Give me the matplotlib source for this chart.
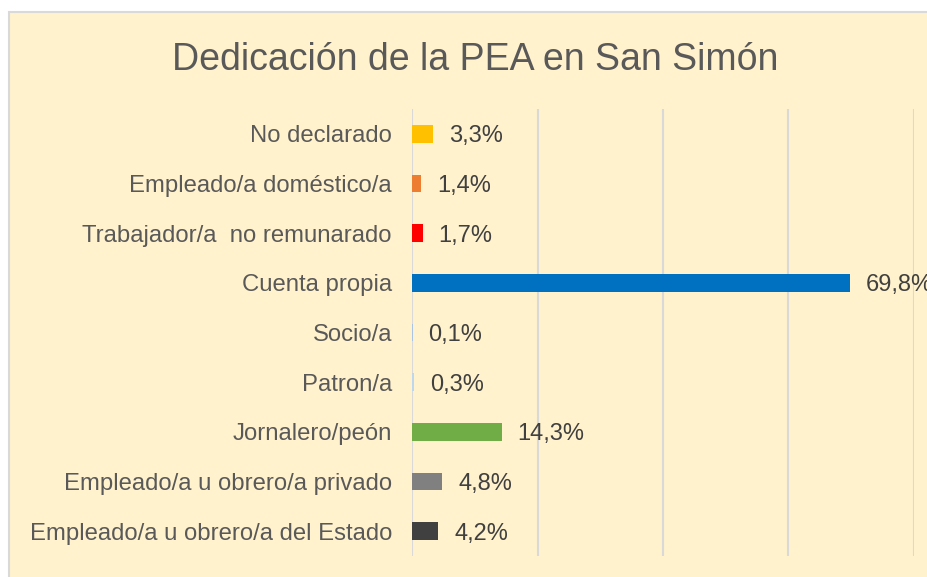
import matplotlib
matplotlib.use("Agg")
import matplotlib.pyplot as plt
from matplotlib.patches import Rectangle

categories = ["No declarado", "Empleado/a doméstico/a", "Trabajador/a  no remunarado",
              "Cuenta propia", "Socio/a", "Patron/a", "Jornalero/peón",
              "Empleado/a u obrero/a privado", "Empleado/a u obrero/a del Estado"]
values = [3.3, 1.4, 1.7, 69.8, 0.1, 0.3, 14.3, 4.8, 4.2]
value_labels = ["3,3%", "1,4%", "1,7%", "69,8%", "0,1%", "0,3%", "14,3%", "4,8%", "4,2%"]
colors = ["#FFC000", "#ED7D31", "#FF0000", "#0070C0", "#A9C4E4", "#BDD7EE",
          "#70AD47", "#808080", "#404040"]
title = "Dedicación de la PEA en San Simón"

plt.rcParams['font.family'] = ['Liberation Sans', 'DejaVu Sans']

W, H = 928, 577
fig = plt.figure(figsize=(W / 100, H / 100), dpi=100, facecolor="white")

# chart area background with border
bg = Rectangle((9 / W, -0.05), 1.1, (H - 12) / H + 0.05, transform=fig.transFigure,
               facecolor="#FFF2CC", edgecolor="#D9D9D9", linewidth=1.5, zorder=-10)
fig.patches.append(bg)

ax = fig.add_axes([412 / W, (H - 556) / H, (914 - 412) / W, (556 - 109) / H])
ax.set_zorder(5)
ax.patch.set_visible(False)
pos = list(range(len(categories)))
ax.barh(pos, values, height=0.36, color=colors, zorder=3)
ax.set_xlim(0, 80)
ax.set_ylim(len(categories) - 0.5, -0.5)
ax.set_xticks([0, 20, 40, 60, 80])
ax.xaxis.grid(True, color="#D9D9D9", linewidth=1.5, zorder=0)
ax.set_axisbelow(True)
ax.tick_params(axis="x", length=0, labelbottom=False)
ax.tick_params(axis="y", length=0, pad=14.4)
ax.set_yticks(pos)
ax.set_yticklabels(categories, fontsize=17.2, color="#595959")
for s in ax.spines.values():
    s.set_visible(False)

for i, (v, lab) in enumerate(zip(values, value_labels)):
    ax.annotate(lab, xy=(v, i), xytext=(11.5, 0), textcoords="offset points",
                va="center_baseline", ha="left", fontsize=17, color="#404040",
                annotation_clip=False, zorder=4)

fig.text(475 / W, (H - 70) / H, title, ha="center", va="baseline",
         fontsize=27, color="#595959")

fig.savefig("out.png", dpi=100, facecolor="white")
